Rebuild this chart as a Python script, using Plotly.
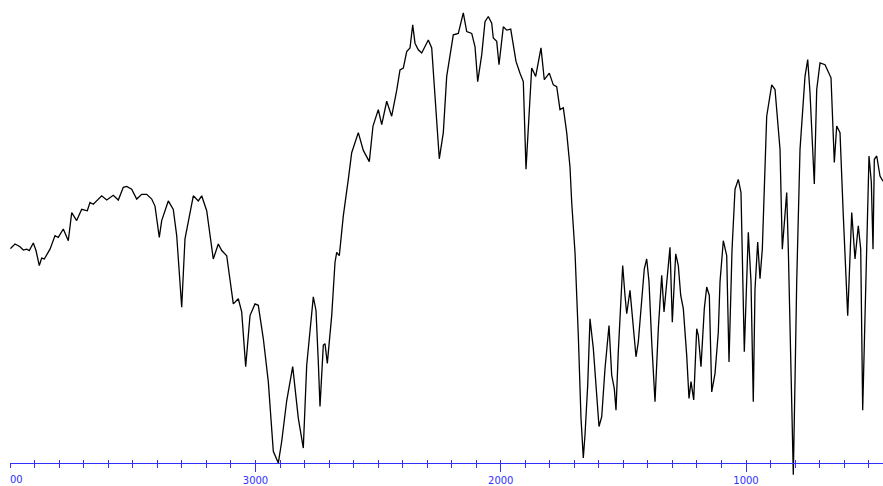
import plotly.graph_objects as go

# IR spectrum (wavenumber in cm-1, transmittance in %)
wavenumber = [
    4000, 3980.6, 3960.2, 3946.8, 3932.9, 3922.3, 3906.0, 3895.0, 3881.6, 3871.8,
    3861.2, 3837.9, 3817.5, 3804.1, 3783.7, 3763.3, 3749.4, 3729.1, 3708.7, 3685.8,
    3674.8, 3661.4, 3627.1, 3606.7, 3579.8, 3559.4, 3539.0, 3525.2, 3504.8, 3484.4,
    3464.0, 3443.6, 3423.2, 3409.8, 3392.3, 3382.5, 3355.6, 3335.2, 3321.3, 3300.9,
    3287.5, 3274.0, 3253.6, 3233.2, 3219.4, 3199.0, 3172.1, 3151.7, 3137.8, 3117.4,
    3090.5, 3070.1, 3056.3, 3040.0, 3022.4, 3002.0, 2988.6, 2968.2, 2947.8, 2927.4,
    2907.0, 2893.2, 2872.8, 2848.3, 2825.5, 2805.1, 2791.2, 2764.3, 2753.3, 2743.9,
    2737.0, 2723.5, 2716.6, 2707.2, 2689.3, 2675.8, 2668.9, 2658.3, 2642.0, 2621.6,
    2607.8, 2580.8, 2560.4, 2536.0, 2520.9, 2499.3, 2485.4, 2465.0, 2444.7, 2424.3,
    2410.8, 2397.3, 2383.5, 2370.0, 2359.0, 2349.6, 2336.2, 2322.3, 2295.4, 2281.5,
    2268.1, 2250.6, 2234.2, 2220.4, 2193.5, 2173.1, 2152.7, 2138.8, 2118.4, 2105.0,
    2094.0, 2077.7, 2064.2, 2050.8, 2036.9, 2030.4, 2016.5, 2007.1, 1989.6, 1975.7,
    1959.4, 1948.8, 1937.8, 1921.5, 1908.0, 1897.0, 1887.6, 1873.8, 1857.5, 1835.9,
    1822.4, 1802.0, 1785.7, 1771.8, 1758.4, 1744.9, 1731.1, 1717.6, 1710.7, 1697.2,
    1683.8, 1672.8, 1663.4, 1656.5, 1645.4, 1636.1, 1622.6, 1608.7, 1599.4, 1588.3,
    1574.9, 1558.6, 1547.6, 1537.0, 1530.1, 1520.7, 1509.7, 1502.8, 1493.4, 1486.4,
    1473.0, 1459.5, 1448.5, 1439.1, 1425.3, 1414.7, 1404.9, 1395.5, 1384.5, 1371.0,
    1357.5, 1343.7, 1334.3, 1323.3, 1309.9, 1300.5, 1286.6, 1276.0, 1266.2, 1255.6,
    1241.8, 1232.4, 1224.2, 1213.2, 1201.0, 1194.5, 1183.5, 1170.0, 1160.2, 1149.6,
    1139.8, 1126.4, 1112.9, 1106.0, 1092.5, 1078.7, 1069.3, 1057.1, 1044.8, 1031.4,
    1020.4, 1006.9, 990.6, 979.6, 970.3, 963.3, 952.3, 942.9, 933.5, 915.6,
    895.2, 881.7, 861.3, 852.0, 841.0, 834.0, 827.5, 816.5, 807.1, 800.2,
    793.3, 779.8, 759.4, 748.4, 739.0, 721.5, 711.7, 698.2, 677.8, 653.4,
    639.9, 630.2, 616.7, 603.2, 585.3, 568.9, 555.5, 542.1, 532.3, 524.2,
    507.8, 498.5, 489.0, 482.1, 476.8, 467.0, 453.6, 441.4,
]
transmittance = [
    49.0, 50.0, 49.4, 48.7, 48.9, 48.6, 50.2, 48.6, 45.4, 47.0,
    46.8, 48.9, 51.8, 51.4, 53.2, 50.7, 56.7, 55.0, 57.4, 57.1,
    58.9, 58.5, 60.3, 59.4, 60.4, 59.4, 62.1, 62.3, 61.7, 59.6,
    60.6, 60.6, 59.6, 58.1, 51.4, 55.0, 59.2, 57.4, 51.8, 36.5,
    51.1, 54.6, 60.3, 59.2, 60.3, 57.1, 46.8, 50.0, 48.6, 47.5,
    37.2, 38.3, 35.5, 23.8, 34.7, 37.2, 36.9, 29.8, 20.6, 5.7,
    3.2, 7.8, 16.5, 23.8, 12.8, 6.4, 24.1, 38.7, 35.8, 24.8,
    15.3, 28.4, 28.7, 24.5, 34.7, 46.1, 48.2, 47.5, 56.0, 63.8,
    69.5, 73.8, 70.0, 67.6, 75.2, 78.7, 75.5, 80.5, 77.3, 82.8,
    87.2, 87.6, 91.1, 91.9, 96.8, 92.9, 91.5, 90.8, 93.6, 91.9,
    80.9, 68.2, 73.8, 85.8, 94.7, 95.0, 99.4, 95.4, 95.0, 92.2,
    84.7, 90.4, 97.5, 98.6, 97.2, 94.0, 93.3, 88.3, 96.4, 95.7,
    95.9, 92.9, 89.0, 86.5, 84.7, 66.0, 75.2, 87.6, 85.8, 91.9,
    85.1, 86.5, 84.0, 83.6, 78.7, 79.1, 73.8, 66.4, 58.9, 48.2,
    30.5, 12.8, 4.3, 9.2, 19.9, 34.0, 27.7, 17.7, 11.0, 13.1,
    23.4, 32.6, 22.0, 19.1, 14.5, 27.0, 39.0, 45.4, 39.0, 35.1,
    40.1, 31.2, 25.9, 29.1, 39.0, 44.7, 46.8, 41.9, 29.1, 16.3,
    31.9, 43.3, 35.5, 41.1, 49.3, 33.3, 47.9, 45.4, 39.0, 36.2,
    26.2, 17.0, 20.6, 16.7, 31.9, 30.5, 23.8, 36.2, 40.8, 39.0,
    18.4, 22.3, 31.2, 41.9, 50.7, 47.5, 24.8, 48.6, 61.7, 63.8,
    61.0, 27.0, 52.5, 41.9, 16.3, 40.4, 50.4, 42.6, 48.9, 77.3,
    84.0, 83.0, 70.2, 48.9, 57.4, 61.0, 48.9, 20.6, 0.7, 20.6,
    41.9, 70.2, 85.8, 89.4, 82.3, 62.8, 83.0, 88.7, 88.3, 85.5,
    67.4, 75.2, 73.8, 56.0, 34.7, 56.7, 46.8, 53.9, 48.9, 14.5,
    48.9, 68.8, 63.2, 48.9, 68.1, 68.8, 64.5, 63.4,
]

major_ticks = [3000, 2000, 1000]
major_labels = ["3000", "2000", "1000"]
# the 4000 label is cut off at the left edge of the axis in the reference
edge_tick = 4000
edge_label = "00"

W, H = 883, 486
axis_color = "#3030ff"
x_range = [4000, 441.4]
x_domain = [10.25 / W, 1]
y_range = [-1.277, 102.13]
axis_pos = (H - 465) / H
label_font = dict(family="DejaVu Sans", size=10, color=axis_color)

fig = go.Figure()
fig.add_trace(go.Scatter(
    x=wavenumber, y=transmittance, mode="lines",
    line=dict(color="black", width=1.3), hoverinfo="x+y", showlegend=False,
))
# invisible helper trace so the second (inside-tick) axis is drawn
fig.add_trace(go.Scatter(
    x=[wavenumber[0]], y=[transmittance[0]], xaxis="x2", yaxis="y",
    mode="markers", marker=dict(opacity=0), showlegend=False, hoverinfo="skip",
))

fig.add_annotation(
    x=edge_tick, xref="x", y=(H - 481) / H, yref="paper",
    text=edge_label, showarrow=False, xanchor="left", yanchor="middle",
    xshift=-2, font=label_font,
)

fig.update_layout(
    width=W, height=H, autosize=False,
    margin=dict(l=0, r=0, t=0, b=0, pad=0),
    paper_bgcolor="white", plot_bgcolor="white",
    xaxis=dict(
        range=x_range, anchor="free", position=axis_pos, domain=x_domain,
        showline=True, linecolor=axis_color, linewidth=1,
        showgrid=False, zeroline=False,
        tickmode="array", tickvals=major_ticks, ticktext=major_labels,
        ticks="outside", ticklen=8, tickwidth=1, tickcolor=axis_color,
        tickfont=label_font,
        minor=dict(dtick=100, tick0=0, ticks="outside", ticklen=4,
                   tickwidth=1, tickcolor=axis_color, showgrid=False),
    ),
    xaxis2=dict(
        range=x_range, overlaying="x", anchor="free", position=axis_pos,
        domain=x_domain, side="bottom",
        showline=False, showgrid=False, zeroline=False, showticklabels=False,
        tickmode="linear", tick0=0, dtick=100,
        ticks="inside", ticklen=3, tickwidth=1, tickcolor=axis_color,
    ),
    yaxis=dict(range=y_range, visible=False, domain=[0, 1], fixedrange=True),
)

fig.write_html(
    "out.html",
    config={"displayModeBar": False},
    post_script="document.body.style.margin='0';document.body.style.overflow='hidden';",
)
